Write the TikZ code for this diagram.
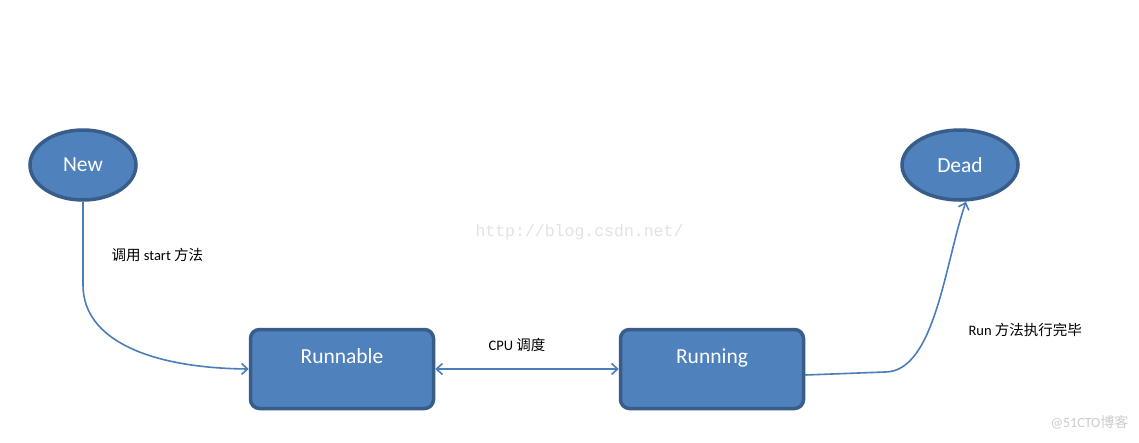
\documentclass[tikz,border=0pt]{standalone}
\usepackage{fontspec}
\setmainfont{Carlito}
\newfontfamily\cjk{Noto Sans CJK SC}
\newfontfamily\wmfont{Liberation Mono}
\usepackage{xcolor}
\usepackage{tikz}
\usetikzlibrary{shapes.geometric, positioning, arrows.meta}
\definecolor{boxfill}{HTML}{4F81BD}
\definecolor{boxline}{HTML}{385D8A}
\definecolor{connline}{HTML}{4A7EBB}
\tikzset{
>={Straight Barb[length=6pt,width=11pt]}, % open arrow heads
endstate/.style={ellipse, fill=boxfill, draw=boxline, line width=3.5pt, minimum width=106pt, minimum height=70pt, text=white, font=\fontsize{21.5}{24}\selectfont}, % New and Dead
runstate/.style={rectangle, rounded corners=9pt, fill=boxfill, draw=boxline, line width=3.5pt, minimum width=183pt, inner sep=0pt, text height=34pt, text depth=45pt, text=white, font=\fontsize{21.5}{24}\selectfont}, % Runnable and Running
conn/.style={draw=connline, line width=1.6pt}, % the connectors
edgelabel/.style={anchor=west, font=\fontsize{14.5}{16}\selectfont}, % texts beside the connectors
}
\begin{document}
\begin{tikzpicture}[x=1pt, y=-1pt]
    \useasboundingbox[fill=white] (0,0) rectangle (1139,442);

    \node[endstate] (new) at (83,165) {New};
    \node[endstate, minimum width=116pt] (dead) at (960,165) {Dead};
    \node[runstate] (runnable) at (342,369) {Runnable};
    \node[runstate] (running) at (712,369) {Running};

    \draw[conn, ->] (new.south) -- (83,285) .. controls (83,340) and (150,368) .. (runnable.west);
    \draw[conn, <->] (runnable.east) -- (running.west);
    \draw[conn, ->] ([yshift=-6pt]running.east) -- (885,372) .. controls (935,372) and (945,262) .. ([xshift=6pt]dead.south);

    \node[edgelabel] (lstart) at (108,255) {{\cjk 调用} start {\cjk 方法}};
    \node[edgelabel] (lcpu) at (485,345) {CPU {\cjk 调度}};
    \node[edgelabel] (lrun) at (965,330) {Run {\cjk 方法执行完毕}};

    % watermarks
    \node[anchor=west, text=gray!22, font=\wmfont\fontsize{16.5}{18}\selectfont] (wm) at (472,232) {http://blog.csdn.net/};
    \node[anchor=east, text=gray!40, font=\fontsize{14}{16}\selectfont] (wm2) at (1132,422) {@51CTO{\cjk 博客}};
\end{tikzpicture}
\end{document}
